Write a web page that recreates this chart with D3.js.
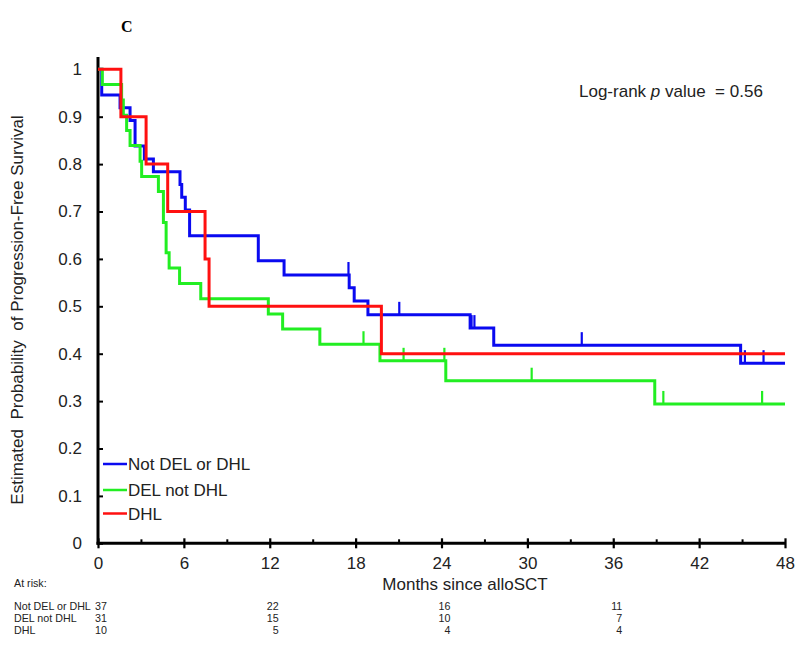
<!DOCTYPE html>
<html>
<head>
<meta charset="utf-8">
<script src="https://cdn.jsdelivr.net/npm/d3@7"></script>
<style>
  html, body { margin: 0; padding: 0; background: #fff; }
  svg { display: block; font-family: Arial, "Liberation Sans", sans-serif; }
</style>
</head>
<body>
<svg id="chart" width="800" height="646"></svg>
<script>
// ---------- data ----------
const xTicks = [0, 6, 12, 18, 24, 30, 36, 42, 48];
const xMinorTicks = [3, 9, 15, 21, 27, 33, 39, 45];
const yTicks = [0, 0.1, 0.2, 0.3, 0.4, 0.5, 0.6, 0.7, 0.8, 0.9, 1];

const groupNames = ["Not DEL or DHL", "DEL not DHL", "DHL"];
const groupColors = ["#0a0af0", "#22ee22", "#ff1010"];

// Step curves: event times (months) and survival after each step
const blueTimes = [0, 0.26, 1.54, 2.24, 2.59, 3.24, 3.87, 5.73, 5.85, 6.1, 6.4, 11.2, 13.0, 17.55, 17.9, 18.86, 26.0, 27.65, 44.9];
const blueSurv  = [1, 0.946, 0.919, 0.892, 0.838, 0.811, 0.784, 0.757, 0.730, 0.703, 0.649, 0.596, 0.566, 0.539, 0.511, 0.482, 0.454, 0.418, 0.380];
const blueCensT = [17.5, 21.05, 26.1, 26.3, 33.8, 45.2, 46.5];
const blueCensS = [0.566, 0.482, 0.454, 0.454, 0.418, 0.380, 0.380];

const greenTimes = [0, 0.3, 1.65, 1.77, 2.0, 2.24, 2.94, 3.05, 4.22, 4.57, 4.76, 4.97, 5.7, 7.18, 11.9, 12.9, 15.5, 19.7, 24.3, 38.9];
const greenSurv  = [1, 0.968, 0.935, 0.903, 0.871, 0.839, 0.806, 0.774, 0.742, 0.677, 0.613, 0.581, 0.548, 0.516, 0.484, 0.452, 0.420, 0.385, 0.343, 0.294];
const greenCensT = [18.55, 21.35, 24.2, 30.3, 39.5, 46.4];
const greenCensS = [0.420, 0.385, 0.385, 0.343, 0.294, 0.294];

const redTimes = [0, 1.6, 3.36, 4.87, 7.48, 7.76, 19.8];
const redSurv  = [1, 0.9, 0.8, 0.7, 0.6, 0.5, 0.4];
const redCensT = [];
const redCensS = [];

const atRiskTimes = [0, 12, 24, 36];
const atRiskBlue  = [37, 22, 16, 11];
const atRiskGreen = [31, 15, 10, 7];
const atRiskRed   = [10, 5, 4, 4];

const maxMonth = 48;

// ---------- drawing ----------
const svg = d3.select("#chart");
const x = d3.scaleLinear().domain([0, 48]).range([98, 785]);
const y = d3.scaleLinear().domain([0, 1]).range([543.3, 69.3]);

// panel letter
svg.append("text").attr("x", 121).attr("y", 32)
  .style("font-family", "'Liberation Serif', 'Times New Roman', serif")
  .style("font-weight", "bold").style("font-size", "16px").text("C");

// Y axis
const yAxis = d3.axisLeft(y).tickValues(yTicks).tickSize(-5).tickSizeOuter(0).tickPadding(16)
  .tickFormat(d => d === 0 ? "0" : d === 1 ? "1" : d3.format(".1f")(d));
const gy = svg.append("g").attr("transform", "translate(98,0)").call(yAxis);
gy.select(".domain").remove();
gy.selectAll(".tick line").attr("stroke", "#000").attr("stroke-width", 2);
gy.selectAll(".tick text").style("font-size", "17px").attr("fill", "#222");
svg.append("line").attr("x1", 98).attr("x2", 98).attr("y1", 57).attr("y2", y(0) + 1.5)
  .attr("stroke", "#000").attr("stroke-width", 3);

// X axis (major)
const xAxis = d3.axisBottom(x).tickValues(xTicks).tickSize(4).tickSizeOuter(0).tickPadding(10);
const gx = svg.append("g").attr("transform", `translate(0,${y(0)})`).call(xAxis);
gx.select(".domain").remove();
gx.selectAll(".tick line").attr("y1", -5).attr("y2", 5).attr("stroke", "#000").attr("stroke-width", 2.2);
gx.selectAll(".tick text").style("font-size", "17px").attr("fill", "#222");
// minor ticks
const xMinor = d3.axisBottom(x).tickValues(xMinorTicks).tickSize(-4).tickSizeOuter(0).tickFormat("");
const gxm = svg.append("g").attr("transform", `translate(0,${y(0)})`).call(xMinor);
gxm.select(".domain").remove();
gxm.selectAll(".tick line").attr("stroke", "#000").attr("stroke-width", 2);
svg.append("line").attr("x1", 96.5).attr("x2", x(48) + 1).attr("y1", y(0)).attr("y2", y(0))
  .attr("stroke", "#000").attr("stroke-width", 3);

// axis titles
svg.append("text").attr("x", 465).attr("y", 590).attr("text-anchor", "middle")
  .style("font-size", "17px").attr("fill", "#222").text("Months since alloSCT");
svg.append("text").attr("transform", "translate(23,310) rotate(-90)").attr("text-anchor", "middle")
  .style("font-size", "17px").style("white-space", "pre").attr("fill", "#222")
  .text("Estimated  Probability  of Progression-Free Survival");

// curves
const series = [
  { times: blueTimes, surv: blueSurv, ct: blueCensT, cs: blueCensS, color: groupColors[0] },
  { times: greenTimes, surv: greenSurv, ct: greenCensT, cs: greenCensS, color: groupColors[1] },
  { times: redTimes, surv: redSurv, ct: redCensT, cs: redCensS, color: groupColors[2] }
];
const line = d3.line().x(d => x(d[0])).y(d => y(d[1])).curve(d3.curveStepAfter);
series.forEach(s => {
  const pts = s.times.map((t, i) => [t, s.surv[i]]);
  pts.push([maxMonth, s.surv[s.surv.length - 1]]);
  svg.append("path").datum(pts).attr("d", line).attr("fill", "none")
    .attr("stroke", s.color).attr("stroke-width", 3).attr("stroke-linejoin", "miter");
  svg.selectAll(null).data(s.ct.map((t, i) => [t, s.cs[i]])).enter().append("line")
    .attr("x1", d => x(d[0])).attr("x2", d => x(d[0]))
    .attr("y1", d => y(d[1])).attr("y2", d => y(d[1]) - 13)
    .attr("stroke", s.color).attr("stroke-width", 2.2);
});

// log-rank annotation
const lr = svg.append("text").attr("x", 579).attr("y", 97).style("font-size", "17px").attr("fill", "#222")
  .style("white-space", "pre");
lr.append("tspan").text("Log-rank ");
lr.append("tspan").style("font-style", "italic").text("p");
lr.append("tspan").text(" value  = 0.56");

// legend
const legY = [464, 490, 513.5];
groupNames.forEach((n, i) => {
  svg.append("line").attr("x1", 103).attr("x2", 127).attr("y1", legY[i]).attr("y2", legY[i])
    .attr("stroke", groupColors[i]).attr("stroke-width", 2.5);
  svg.append("text").attr("x", 128).attr("y", legY[i] + 6).style("font-size", "17px").attr("fill", "#222").text(n);
});

// at-risk table
const tbl = svg.append("g").style("font-size", "10.7px").attr("fill", "#222");
tbl.append("text").attr("x", 14).attr("y", 587).text("At risk:");
const rowsY = [609.5, 621.8, 633.5];
const rows = [atRiskBlue, atRiskGreen, atRiskRed];
groupNames.forEach((n, i) => {
  tbl.append("text").attr("x", 14).attr("y", rowsY[i]).text(n);
  rows[i].forEach((v, j) => {
    tbl.append("text").attr("x", x(atRiskTimes[j]) + 9).attr("y", rowsY[i])
      .attr("text-anchor", "end").text(v);
  });
});
</script>
</body>
</html>
